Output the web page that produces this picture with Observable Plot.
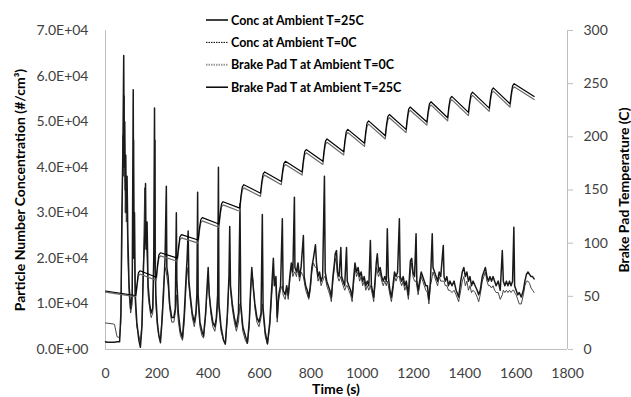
<!DOCTYPE html>
<html><head><meta charset="utf-8">
<script src="https://cdn.jsdelivr.net/npm/d3@7"></script>
<script src="https://cdn.jsdelivr.net/npm/@observablehq/plot@0.6"></script>
<style>
body{margin:0;background:#fff}
#wrap{position:relative;width:631px;height:397px;font-family:Lato,"Open Sans",sans-serif}
#wrap svg.overlay{position:absolute;left:0;top:0;pointer-events:none}
</style>
</head><body><div id="wrap"></div>
<script>
// ---- tick values ----
const xTicks = [0,200,400,600,800,1000,1200,1400,1600,1800];
const concTicks = [0,10000,20000,30000,40000,50000,60000,70000];
const tempTicks = [0,50,100,150,200,250,300];

// ---- concentration (thousands of #/cm3), shared time grid (s) ----
const concTime = [
0,5,30,35,45,55,60,64,68,71,
73,75,77,79,81,84,87,92,98,104,
108,110,113,116,122,130,136,142,148,153,
156,158,162,166,172,178,184,188,191,193,
196,202,208,214,220,226,232,237,239,244,
250,258,266,272,276,278,284,292,300,307,
314,318,322,325,330,338,346,352,356,359,
361,368,376,382,390,396,400,404,410,418,
426,432,437,440,442,450,460,467,475,481,
484,487,494,502,510,518,524,527,535,545,
553,560,566,570,575,582,590,598,606,611,
614,622,631,
640,648,654,658,664,669,675,682,689,692,
700,706,712,718,724,730,736,738,744,750,
756,762,771,774,780,786,792,798,804,810,
818,822,828,834,840,846,853,856,862,868,
874,880,886,892,895,900,904,910,917,920,
926,932,939,942,948,955,961,966,972,978,
984,990,996,1002,1008,1014,1020,1026,1032,1036,
1040,1045,1050,1055,1059,1064,1070,1076,1082,1088,
1094,1098,1102,1108,1114,1120,1126,1132,1138,1145,
1148,1154,1160,1166,1172,1180,1188,1193,1198,1204,
1210,1213,1218,1224,1230,1236,1242,1248,1254,1260,
1266,1273,1276,1282,1288,1294,1300,1306,1316,1319,
1324,1330,1336,1342,1350,1358,1366,1376,1384,1390,
1396,1402,1408,1414,1420,1426,1432,1440,1448,1454,
1460,1468,1474,1480,1486,1492,1498,1504,1510,1516,
1522,1530,1538,1546,1550,1556,1562,1568,1574,1580,
1586,1591,1594,1600,1606,1612,1620,1628,1634,1640,
1646,1652,1658,1664,1670];

const conc25k = [
1.7,1.6,1.6,1.6,1.7,1.7,8,30,45,64.5,
40,50,35,42.6,30,38,25,14,9,12,
57,20,30,12,6,2,0.5,5,18,25,
36.4,22,28,14,10,8,9,20,53,20,
12,6,3,1.5,6,12,20,35.8,18,16,
10,7,7,9,30,15,8,4,2.6,8,
16,20,26,15,12,8,6,8,12,34.5,
12,6,4,3,8,14,18,12,9,6,
5,7,12,40,10,5,2,1.3,8,16,
27,14,10,7,5,8,32,10,5,3,
1.5,6,14,18,14,10,7,6,8,29.6,
9,4,1.3,
6,14,20,14,16,7,12,14,28.7,13,
12,14,12,16,19,17,33.4,18,17,19,
16,18,25,16,14,13,11.5,14,18,20,
23,19,16,17,15,16,38,17,15,14,
13,11.5,16,19,21,21.7,17,16,22.4,16,
15,14,22.4,15,14,13,11.5,15,19,17,
18,16,17,15,16,14,15,14,23.9,14,
13,11.5,15,19,21,17,18,16,15,16,
15,26.5,16,13,11.5,14,17,16,17,28.7,
16,15,16,14,15,12,19.5,20,17,16,
25.4,15,13,15,17,16,15,14,14,11,
15,25.4,18,17,16,15,17,16,22.8,16,
15,16,14,15,14,15,13,11.5,15,17,
18,16,17,15,16,14,15,14,13,12,
13,16,17,18,16,15,16,15,16,15,
14,15,13,21.7,15,14,15,14,15,14,
15,26.8,14,13,12,12.5,11.5,13,15,16.5,
17,16.5,16,16,15.5];

const conc0k = [
5.8,5.8,5.6,5.5,2.8,2.6,6,25,47,38,
55.7,42,30,36,28,30,20,12,8,10,
35,46,20,10,5,3,1.5,6,20,35.5,
24,26,20,12,9,7,8,16,22,46,
10,5,3,2,7,14,18,17,16,14,
9,6,6,8,12,10,6,3,2,6,
14,18,16,14,11,7,5,7,10,12,
10,5,3,2.5,7,13,16,13,8,5,
4,6,10,12,9,4,2,1,7,15,
16,13,9,6,4,6,10,9,4,2,
1.2,5,13,17,15,9,6,5,7,10,
8,3,1.1,
5,12,17,15,14,6,11,13,14,12,
11,13,11,15,18,16,17,17,16,18,
15,17,16,15,13,12,11,13,17,19,
18,18,15,16,14,15,16,16,14,13,
12,10.5,15,18,20,19,16,15,16,15,
14,13,14,14,13,12,10.5,14,18,16,
17,15,16,14,15,13,14,13,14,13,
12,10.5,14,18,17,16,17,15,14,15,
14,15,14,12,10.5,13,16,15,16,16,
15,14,15,13,14,11,17,19,16,15,
15,14,12,14,16,15,14,13,12.5,10,
14,16,17,16,15,14,16,15,15,15,
14,14,13,13,12.5,13,12,10.5,13,15,
16,14,15,13,14,12.5,13,12.5,11.5,10.5,
12,15,16,17,15,14,14,13.5,14,13,
12.5,12.5,11,12,13,12.5,13,12.5,13,12.5,
13,13,12.5,12,11,10,10,12,14,15,
15,14.5,13.5,13,12.5];

// ---- brake pad temperature (C) ----
const tempTime = [0,110,
118,123,128,134, 198,203,208,214, 280,285,290,296, 361,366,371,377,
442,447,452,458, 523,528,533,539, 604,609,614,620, 685,690,695,701,
766,771,776,782, 847,852,857,863, 928,933,938,944, 1009,1014,1019,1025,
1090,1095,1100,1106, 1171,1176,1181,1187, 1252,1257,1262,1268, 1333,1338,1343,1349,
1414,1419,1424,1430, 1495,1500,1505,1511, 1576,1581,1586,1592, 1670];

const temp25 = [55,51,
51,62,72,74, 68,80,89,91, 86,97,106,108, 103,114,122,124,
118,129,137,139, 133,145,153,155, 147,158,165,167, 158,168,175,177,
167,178,186,188, 177,188,196,198, 186,197,205,207, 194,205,213,215,
201,212,219,221, 207,218,226,228, 214,224,231,233, 218,229,236,238,
223,233,240,242, 227,237,244,246, 231,241,248,250, 238];

const temp0 = [54,50,
50,59,69,71, 65,77,86,88, 83,94,103,105, 100,111,119,121,
115,126,134,136, 130,142,150,152, 144,155,162,164, 155,165,172,174,
164,175,183,185, 174,185,193,195, 183,194,202,204, 191,202,210,212,
198,209,216,218, 204,215,223,225, 211,221,228,230, 215,226,233,235,
220,230,237,239, 224,234,241,243, 228,238,245,247, 235];

const legendLabels = ["Conc at Ambient T=25C","Conc at Ambient T=0C","Brake Pad T at Ambient T=0C","Brake Pad T at Ambient T=25C"];

// ---- build tables ----
const K = 70000 / 300; // temperature -> concentration axis
const concData = concTime.map((t, i) => ({t, c25: conc25k[i] * 1000, c0: conc0k[i] * 1000}));
const tempData = tempTime.map((t, i) => ({t, a25: temp25[i], a0: temp0[i]}));

function sci(d) {
  if (d === 0) return "0.0E+00";
  const e = Math.floor(Math.log10(d));
  const m = d / Math.pow(10, e);
  return m.toFixed(1) + "E+" + String(e).padStart(2, "0");
}

const axisGray = "#bfbfbf";
const labelColor = "#404040";

const chart = Plot.plot({
  width: 631, height: 397,
  marginLeft: 105, marginRight: 64, marginTop: 30, marginBottom: 48,
  style: {fontFamily: "Lato, 'Open Sans', sans-serif", fontSize: "14px", background: "#fff", overflow: "visible"},
  x: {domain: [0, 1800]},
  y: {domain: [0, 70000]},
  marks: [
    Plot.ruleX([0], {stroke: axisGray}),
    Plot.ruleX([1800], {stroke: axisGray}),
    Plot.ruleY([0], {stroke: axisGray}),
    Plot.axisX({ticks: xTicks, tickSize: 0, tickPadding: 19, tickFormat: d => String(d), label: null, fill: labelColor}),
    Plot.axisY({ticks: concTicks, tickSize: 0, tickPadding: 17, tickFormat: sci, label: null, fill: labelColor}),
    Plot.axisY({anchor: "right", ticks: tempTicks.map(v => v * K), tickSize: 5, tickPadding: 11,
      tickFormat: d => String(Math.round(d / K)), label: null, stroke: axisGray, fill: labelColor}),
    Plot.line(concData, {x: "t", y: "c0", stroke: "#333", strokeWidth: 0.9}),
    Plot.line(concData, {x: "t", y: "c25", stroke: "#1a1a1a", strokeWidth: 1.5}),
    Plot.line(tempData, {x: "t", y: d => d.a0 * K, stroke: "#6a6a6a", strokeWidth: 1.2}),
    Plot.line(tempData, {x: "t", y: d => d.a25 * K, stroke: "#000", strokeWidth: 1.2})
  ]
});

const wrap = document.getElementById("wrap");
wrap.appendChild(chart);

// ---- overlay: axis titles and legend ----
const ov = d3.select(wrap).append("svg").attr("class", "overlay")
  .attr("width", 631).attr("height", 397)
  .style("font-family", "Lato, 'Open Sans', sans-serif");

ov.append("text").attr("x", 336).attr("y", 394).attr("text-anchor", "middle")
  .attr("font-weight", "bold").attr("font-size", 14).attr("fill", "#000").text("Time (s)");
ov.append("text").attr("transform", "translate(19,190) rotate(-90)").attr("text-anchor", "middle")
  .attr("dominant-baseline", "central").attr("font-weight", "bold").attr("font-size", 14).attr("fill", "#000")
  .text("Particle Number Concentration (#/cm³)");
ov.append("text").attr("transform", "translate(623,190) rotate(-90)").attr("text-anchor", "middle")
  .attr("dominant-baseline", "central").attr("font-weight", "bold").attr("font-size", 14).attr("fill", "#000")
  .text("Brake Pad Temperature (C)");

const legendStyles = [
  {stroke: "#404040", width: 2, dash: null},
  {stroke: "#000", width: 1, dash: "1.5,1"},
  {stroke: "#9a9a9a", width: 2, dash: "1.5,1"},
  {stroke: "#000", width: 1.5, dash: null}
];
legendLabels.forEach((lab, i) => {
  const y = 20 + i * 22.4;
  const s = legendStyles[i];
  const l = ov.append("line").attr("x1", 206).attr("x2", 228).attr("y1", y).attr("y2", y)
    .attr("stroke", s.stroke).attr("stroke-width", s.width);
  if (s.dash) l.attr("stroke-dasharray", s.dash);
  ov.append("text").attr("x", 231).attr("y", y).attr("dominant-baseline", "central")
    .attr("font-weight", "bold").attr("font-size", 12.5).attr("fill", "#000").text(lab);
});
</script></body></html>
